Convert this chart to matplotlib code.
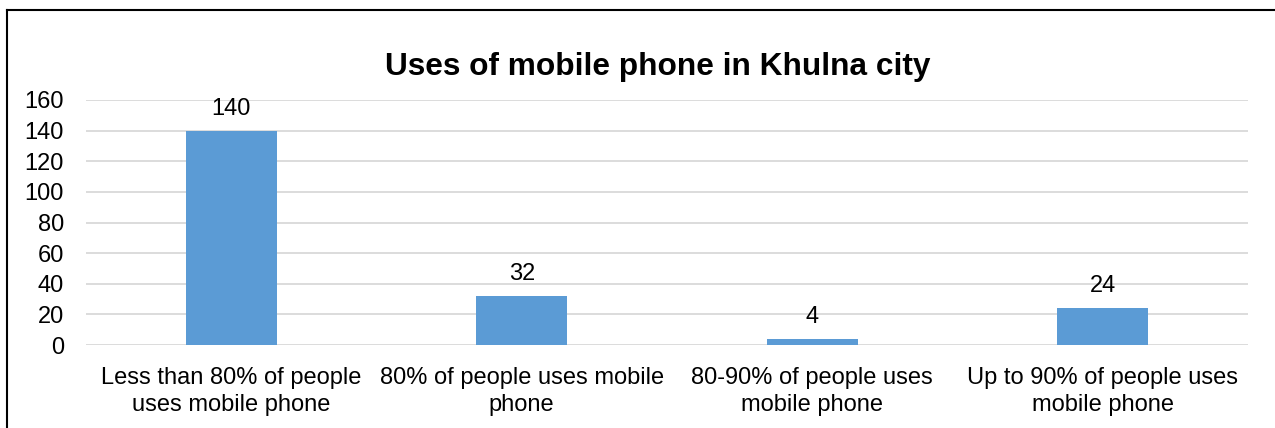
import matplotlib
matplotlib.use("Agg")
import matplotlib.pyplot as plt
from matplotlib.lines import Line2D

plt.rcParams['font.family'] = ['Liberation Sans', 'DejaVu Sans']

categories = [
    "Less than 80% of people\nuses mobile phone",
    "80% of people uses mobile\nphone",
    "80-90% of people uses\nmobile phone",
    "Up to 90% of people uses\nmobile phone",
]
values = [140, 32, 4, 24]
yticks = [0, 20, 40, 60, 80, 100, 120, 140, 160]
title = "Uses of mobile phone in Khulna city"

W, H = 1275, 428
fig = plt.figure(figsize=(W / 100, H / 100), dpi=100)
ax = fig.add_axes([86 / W, 1 - 345 / H, (1248 - 86) / W, (345 - 100) / H])

x = list(range(len(categories)))
bars = ax.bar(x, values, width=0.313, color="#5B9BD5", zorder=3)
for b, v in zip(bars, values):
    ax.annotate(str(v), (b.get_x() + b.get_width() / 2, v),
                xytext=(0, 8), textcoords="offset points",
                ha="center", va="bottom", fontsize=17, color="#000000")

ax.set_xlim(-0.5, len(categories) - 0.5)
ax.set_ylim(0, 160)
ax.set_yticks(yticks)
ax.yaxis.grid(True, color="#d9d9d9", linewidth=1.3, zorder=0)
ax.set_axisbelow(True)
for s in ax.spines.values():
    s.set_visible(False)
ax.tick_params(axis="both", length=0, labelsize=17, colors="#000000")
ax.tick_params(axis="y", pad=16)
ax.tick_params(axis="x", pad=16)
ax.set_xticks(x)
ax.set_xticklabels(categories, linespacing=1.3)

fig.text(658 / W, 1 - 67 / H, title, ha="center", va="center",
         fontsize=22.8, fontweight="bold")

# chart frame: left and top edges
fig.add_artist(Line2D([7 / W, 7 / W], [0, 1 - 10 / H], transform=fig.transFigure,
                      color="black", linewidth=1.5))
fig.add_artist(Line2D([7 / W, 1], [1 - 10 / H, 1 - 10 / H], transform=fig.transFigure,
                      color="black", linewidth=1.5))

fig.savefig("out.png", dpi=100)
